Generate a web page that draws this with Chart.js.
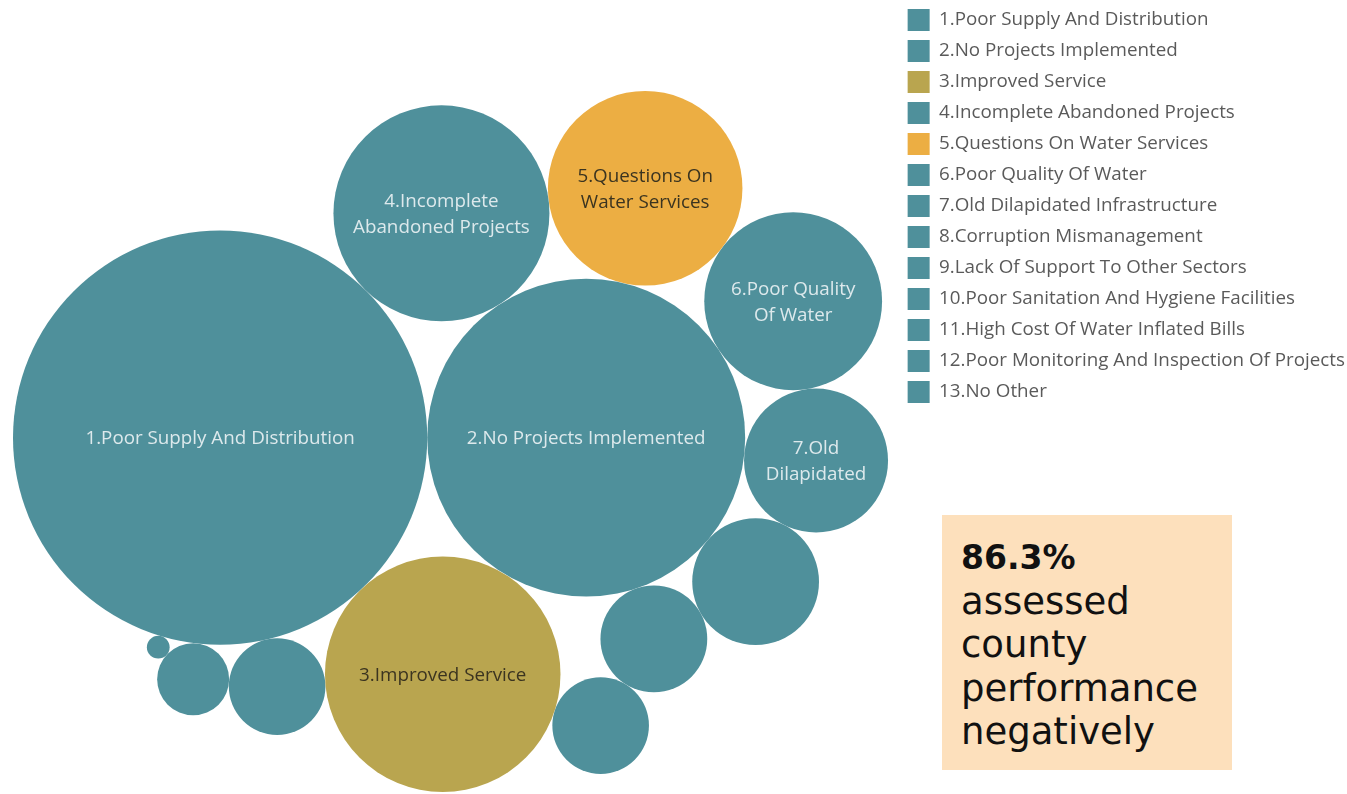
<!DOCTYPE html>
<html>
<head>
  <script src="https://cdn.jsdelivr.net/npm/chart.js"></script>
  <title>County Water Service Assessment</title>
  <style>
    body { margin: 0; background: #ffffff; overflow: hidden; }
    #wrap { position: relative; width: 1347px; height: 794px; overflow: hidden; }
    #callout {
      position: absolute; left: 942px; top: 515px; width: 290px; height: 255px;
      background: #fde0bc; box-sizing: border-box; padding: 20px 0 0 19px;
      font-family: 'DejaVu Sans', sans-serif; font-size: 37px; line-height: 43.5px; color: #111;
    }
    #callout b { font-size: 33px; }
  </style>
</head>
<body>
  <div id="wrap">
    <!-- a bit wider than the page so the legend text reaches the right edge -->
    <canvas id="bubbles" width="1355" height="794"></canvas>
    <div id="callout"><b>86.3%</b><br>assessed<br>county<br>performance<br>negatively</div>
  </div>

  <script>
    // Categories and their share of responses (bubble area)
    const categories = [
      '1.Poor Supply And Distribution',
      '2.No Projects Implemented',
      '3.Improved Service',
      '4.Incomplete Abandoned Projects',
      '5.Questions On Water Services',
      '6.Poor Quality Of Water',
      '7.Old Dilapidated Infrastructure',
      '8.Corruption Mismanagement',
      '9.Lack Of Support To Other Sectors',
      '10.Poor Sanitation And Hygiene Facilities',
      '11.High Cost Of Water Inflated Bills',
      '12.Poor Monitoring And Inspection Of Projects',
      '13.No Other'
    ];
    const shares = [33.1, 19.5, 10.7, 9.0, 7.3, 6.1, 4.0, 3.1, 2.2, 1.8, 1.8, 1.0, 0.1];
    const tone = ['neg', 'neg', 'pos', 'neg', 'neutral', 'neg', 'neg', 'neg', 'neg', 'neg', 'neg', 'neg', 'neg'];

    // Text printed inside the bubbles (Tableau wraps / truncates these)
    const bubbleLabels = [
      ['1.Poor Supply And Distribution'],
      ['2.No Projects Implemented'],
      ['3.Improved Service'],
      ['4.Incomplete', 'Abandoned Projects'],
      ['5.Questions On', 'Water Services'],
      ['6.Poor Quality', 'Of Water'],
      ['7.Old', 'Dilapidated'],
      [], [], [], [], [], []
    ];

    // packing order: each bubble touches these two earlier bubbles
    const packAnchors = [null, [0], [0, 1], [1, 0], [1, 3], [1, 4], [1, 5], [1, 6], [1, 7], [2, 8], [0, 2], [0, 10], [0, 11]];

    const toneColor = { neg: '#4f909b', pos: '#b9a54f', neutral: '#ecae43' };
    const labelColor = { neg: '#dde9ec', pos: '#3b3420', neutral: '#3b3420' };

    const pxPerUnit = 36;
    const radii = shares.map(v => pxPerUnit * Math.sqrt(v));

    // simple tangent packing
    const pos = [{ x: 0, y: 0 }, { x: radii[0] + radii[1], y: 0 }];
    for (let i = 2; i < shares.length; i++) {
      const [a, b] = packAnchors[i];
      const A = pos[a], B = pos[b];
      const dA = radii[a] + radii[i], dB = radii[b] + radii[i];
      const dx = B.x - A.x, dy = B.y - A.y;
      const d = Math.hypot(dx, dy);
      const along = (dA * dA - dB * dB + d * d) / (2 * d);
      const h = Math.sqrt(Math.max(0, dA * dA - along * along));
      const ux = dx / d, uy = dy / d;
      pos[i] = { x: A.x + along * ux - h * uy, y: A.y + along * uy + h * ux };
    }

    const bbox = {
      minX: Math.min(...pos.map((p, i) => p.x - radii[i])),
      minY: Math.min(...pos.map((p, i) => p.y - radii[i]))
    };

    const bubbleText = {
      id: 'bubbleText',
      afterDatasetsDraw(chart) {
        const ctx = chart.ctx;
        ctx.save();
        ctx.font = '18.8px "Open Sans", sans-serif';
        ctx.textAlign = 'center';
        ctx.textBaseline = 'middle';
        chart.data.datasets.forEach((ds, i) => {
          const el = chart.getDatasetMeta(i).data[0];
          const lines = bubbleLabels[i];
          ctx.fillStyle = labelColor[tone[i]];
          lines.forEach((ln, j) => {
            ctx.fillText(ln, el.x, el.y + 1 + (j - (lines.length - 1) / 2) * 26);
          });
        });
        ctx.restore();
      }
    };

    const chart = new Chart(document.getElementById('bubbles'), {
      type: 'bubble',
      data: {
        datasets: categories.map((name, i) => ({
          label: name,
          data: [{ x: pos[i].x, y: pos[i].y, r: radii[i] }],
          backgroundColor: toneColor[tone[i]],
          borderWidth: 0,
          hoverRadius: 0,
          clip: false
        }))
      },
      options: {
        responsive: false,
        animation: false,
        layout: { padding: 0, autoPadding: false },
        scales: {
          x: { type: 'linear', display: false },
          y: { type: 'linear', display: false, reverse: true }
        },
        plugins: {
          tooltip: { enabled: false },
          legend: {
            position: 'right',
            align: 'start',
            labels: {
              boxWidth: 22,
              boxHeight: 22,
              padding: 9,
              color: '#5a5a5a',
              font: { family: "'Open Sans', sans-serif", size: 18.8 }
            }
          }
        }
      },
      plugins: [bubbleText]
    });

    // 1 data unit = 1 pixel so radii and distances agree
    const area = chart.chartArea;
    const xMin = bbox.minX - (13 - area.left);
    const yMin = bbox.minY - (91 - area.top);
    chart.options.scales.x.min = xMin;
    chart.options.scales.x.max = xMin + (area.right - area.left);
    chart.options.scales.y.min = yMin;
    chart.options.scales.y.max = yMin + (area.bottom - area.top);
    chart.update('none');
  </script>
</body>
</html>
